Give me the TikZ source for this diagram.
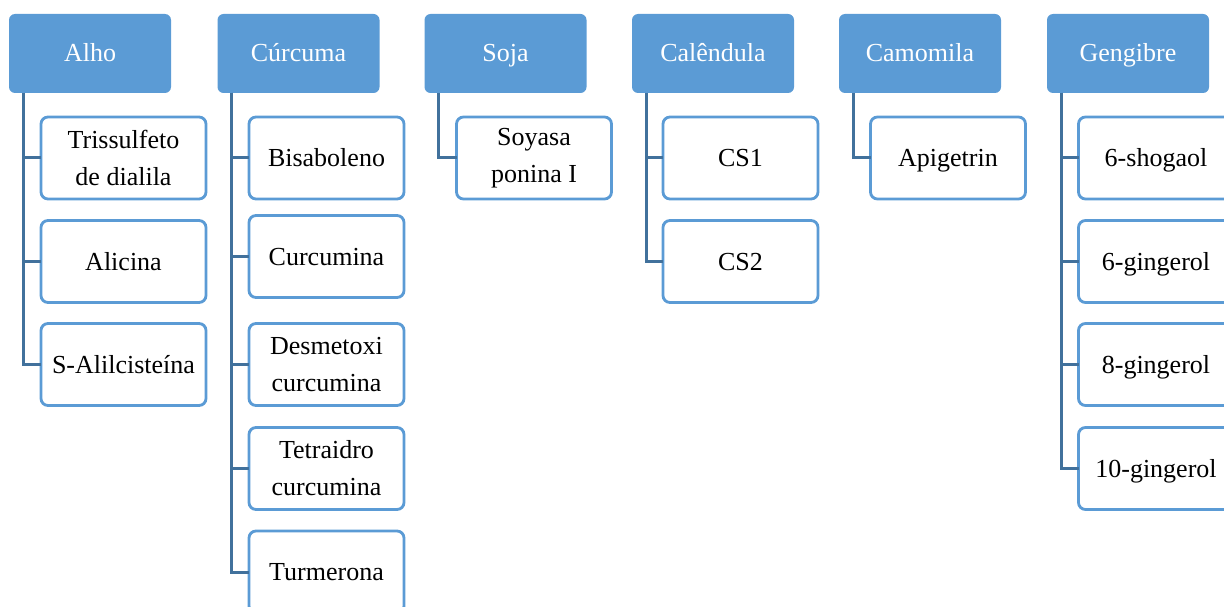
\documentclass[tikz,border=0pt]{standalone}
\usepackage{fontspec}
\setmainfont{Liberation Serif}
\usepackage{tikz}
\usetikzlibrary{positioning}
\definecolor{hdBlue}{RGB}{91, 155, 213}
\definecolor{lnBlue}{RGB}{65, 113, 156}
\tikzset{
    base/.style={
        font=\fontsize{26}{37}\selectfont,
        align=center,
        inner sep=0pt,
        outer sep=0pt
    },
    oneline/.style={
        text height=23pt,
        text depth=6pt
    },
    header/.style={
        base,
        oneline,
        rectangle,
        rounded corners=6pt,
        fill=hdBlue,
        text=white,
        minimum width=162pt,
        minimum height=79pt
    },
    item/.style={
        base,
        rectangle,
        rounded corners=7pt,
        draw=hdBlue,
        line width=2.8pt,
        fill=white,
        text=black,
        minimum width=155pt,
        minimum height=82pt
    },
    link/.style={
        line width=3pt,
        color=lnBlue
    }
}

\begin{document}
\begin{tikzpicture}[x=1pt, y=-1pt]
  \useasboundingbox (0,0) rectangle (1224,607);
  \clip (0,0) rectangle (1224,607);

  % Headers
  \node[header] (alho) at (90,53.5) {Alho};
  \node[header] (curcuma) at (298.5,53.5) {Cúrcuma};
  \node[header] (soja) at (505.5,53.5) {Soja};
  \node[header] (calendula) at (713,53.5) {Calêndula};
  \node[header] (camomila) at (920,53.5) {Camomila};
  \node[header] (gengibre) at (1128,53.5) {Gengibre};

  % Alho
  \node[item, minimum width=165pt] (alho1) at (123.5,158) {Trissulfeto\\de dialila};
  \node[item, oneline, minimum width=165pt] (alho2) at (123.5,261.5) {Alicina};
  \node[item, oneline, minimum width=165pt] (alho3) at (123.5,364.5) {S-Alilcisteína};

  % Curcuma
  \node[item, oneline] (curcuma1) at (326.5,158) {Bisaboleno};
  \node[item, oneline] (curcuma2) at (326.5,256.5) {Curcumina};
  \node[item] (curcuma3) at (326.5,364.5) {Desmetoxi\\curcumina};
  \node[item] (curcuma4) at (326.5,468.5) {Tetraidro\\curcumina};
  \node[item, oneline] (curcuma5) at (326.5,572) {Turmerona};

  % Soja
  \node[item] (soja1) at (534,158) {Soyasa\\ponina I};

  % Calendula
  \node[item, oneline] (calendula1) at (740.5,158) {CS1};
  \node[item, oneline] (calendula2) at (740.5,261.5) {CS2};

  % Camomila
  \node[item, oneline] (camomila1) at (948,158) {Apigetrin};

  % Gengibre
  \node[item, oneline] (gengibre1) at (1156,158) {6-shogaol};
  \node[item, oneline] (gengibre2) at (1156,261.5) {6-gingerol};
  \node[item, oneline] (gengibre3) at (1156,364.5) {8-gingerol};
  \node[item, oneline] (gengibre4) at (1156,468.5) {10-gingerol};

  % Connectors
  \coordinate (alho-t) at ([xshift=14pt]alho.south west);
  \coordinate (curcuma-t) at ([xshift=14pt]curcuma.south west);
  \coordinate (soja-t) at ([xshift=14pt]soja.south west);
  \coordinate (calendula-t) at ([xshift=14pt]calendula.south west);
  \coordinate (camomila-t) at ([xshift=14pt]camomila.south west);
  \coordinate (gengibre-t) at ([xshift=14pt]gengibre.south west);

  \draw[link] (alho-t) |- (alho1.west);
  \draw[link] (alho-t) |- (alho2.west);
  \draw[link] (alho-t) |- (alho3.west);
  \draw[link] (curcuma-t) |- (curcuma1.west);
  \draw[link] (curcuma-t) |- (curcuma2.west);
  \draw[link] (curcuma-t) |- (curcuma3.west);
  \draw[link] (curcuma-t) |- (curcuma4.west);
  \draw[link] (curcuma-t) |- (curcuma5.west);
  \draw[link] (soja-t) |- (soja1.west);
  \draw[link] (calendula-t) |- (calendula1.west);
  \draw[link] (calendula-t) |- (calendula2.west);
  \draw[link] (camomila-t) |- (camomila1.west);
  \draw[link] (gengibre-t) |- (gengibre1.west);
  \draw[link] (gengibre-t) |- (gengibre2.west);
  \draw[link] (gengibre-t) |- (gengibre3.west);
  \draw[link] (gengibre-t) |- (gengibre4.west);
\end{tikzpicture}
\end{document}
